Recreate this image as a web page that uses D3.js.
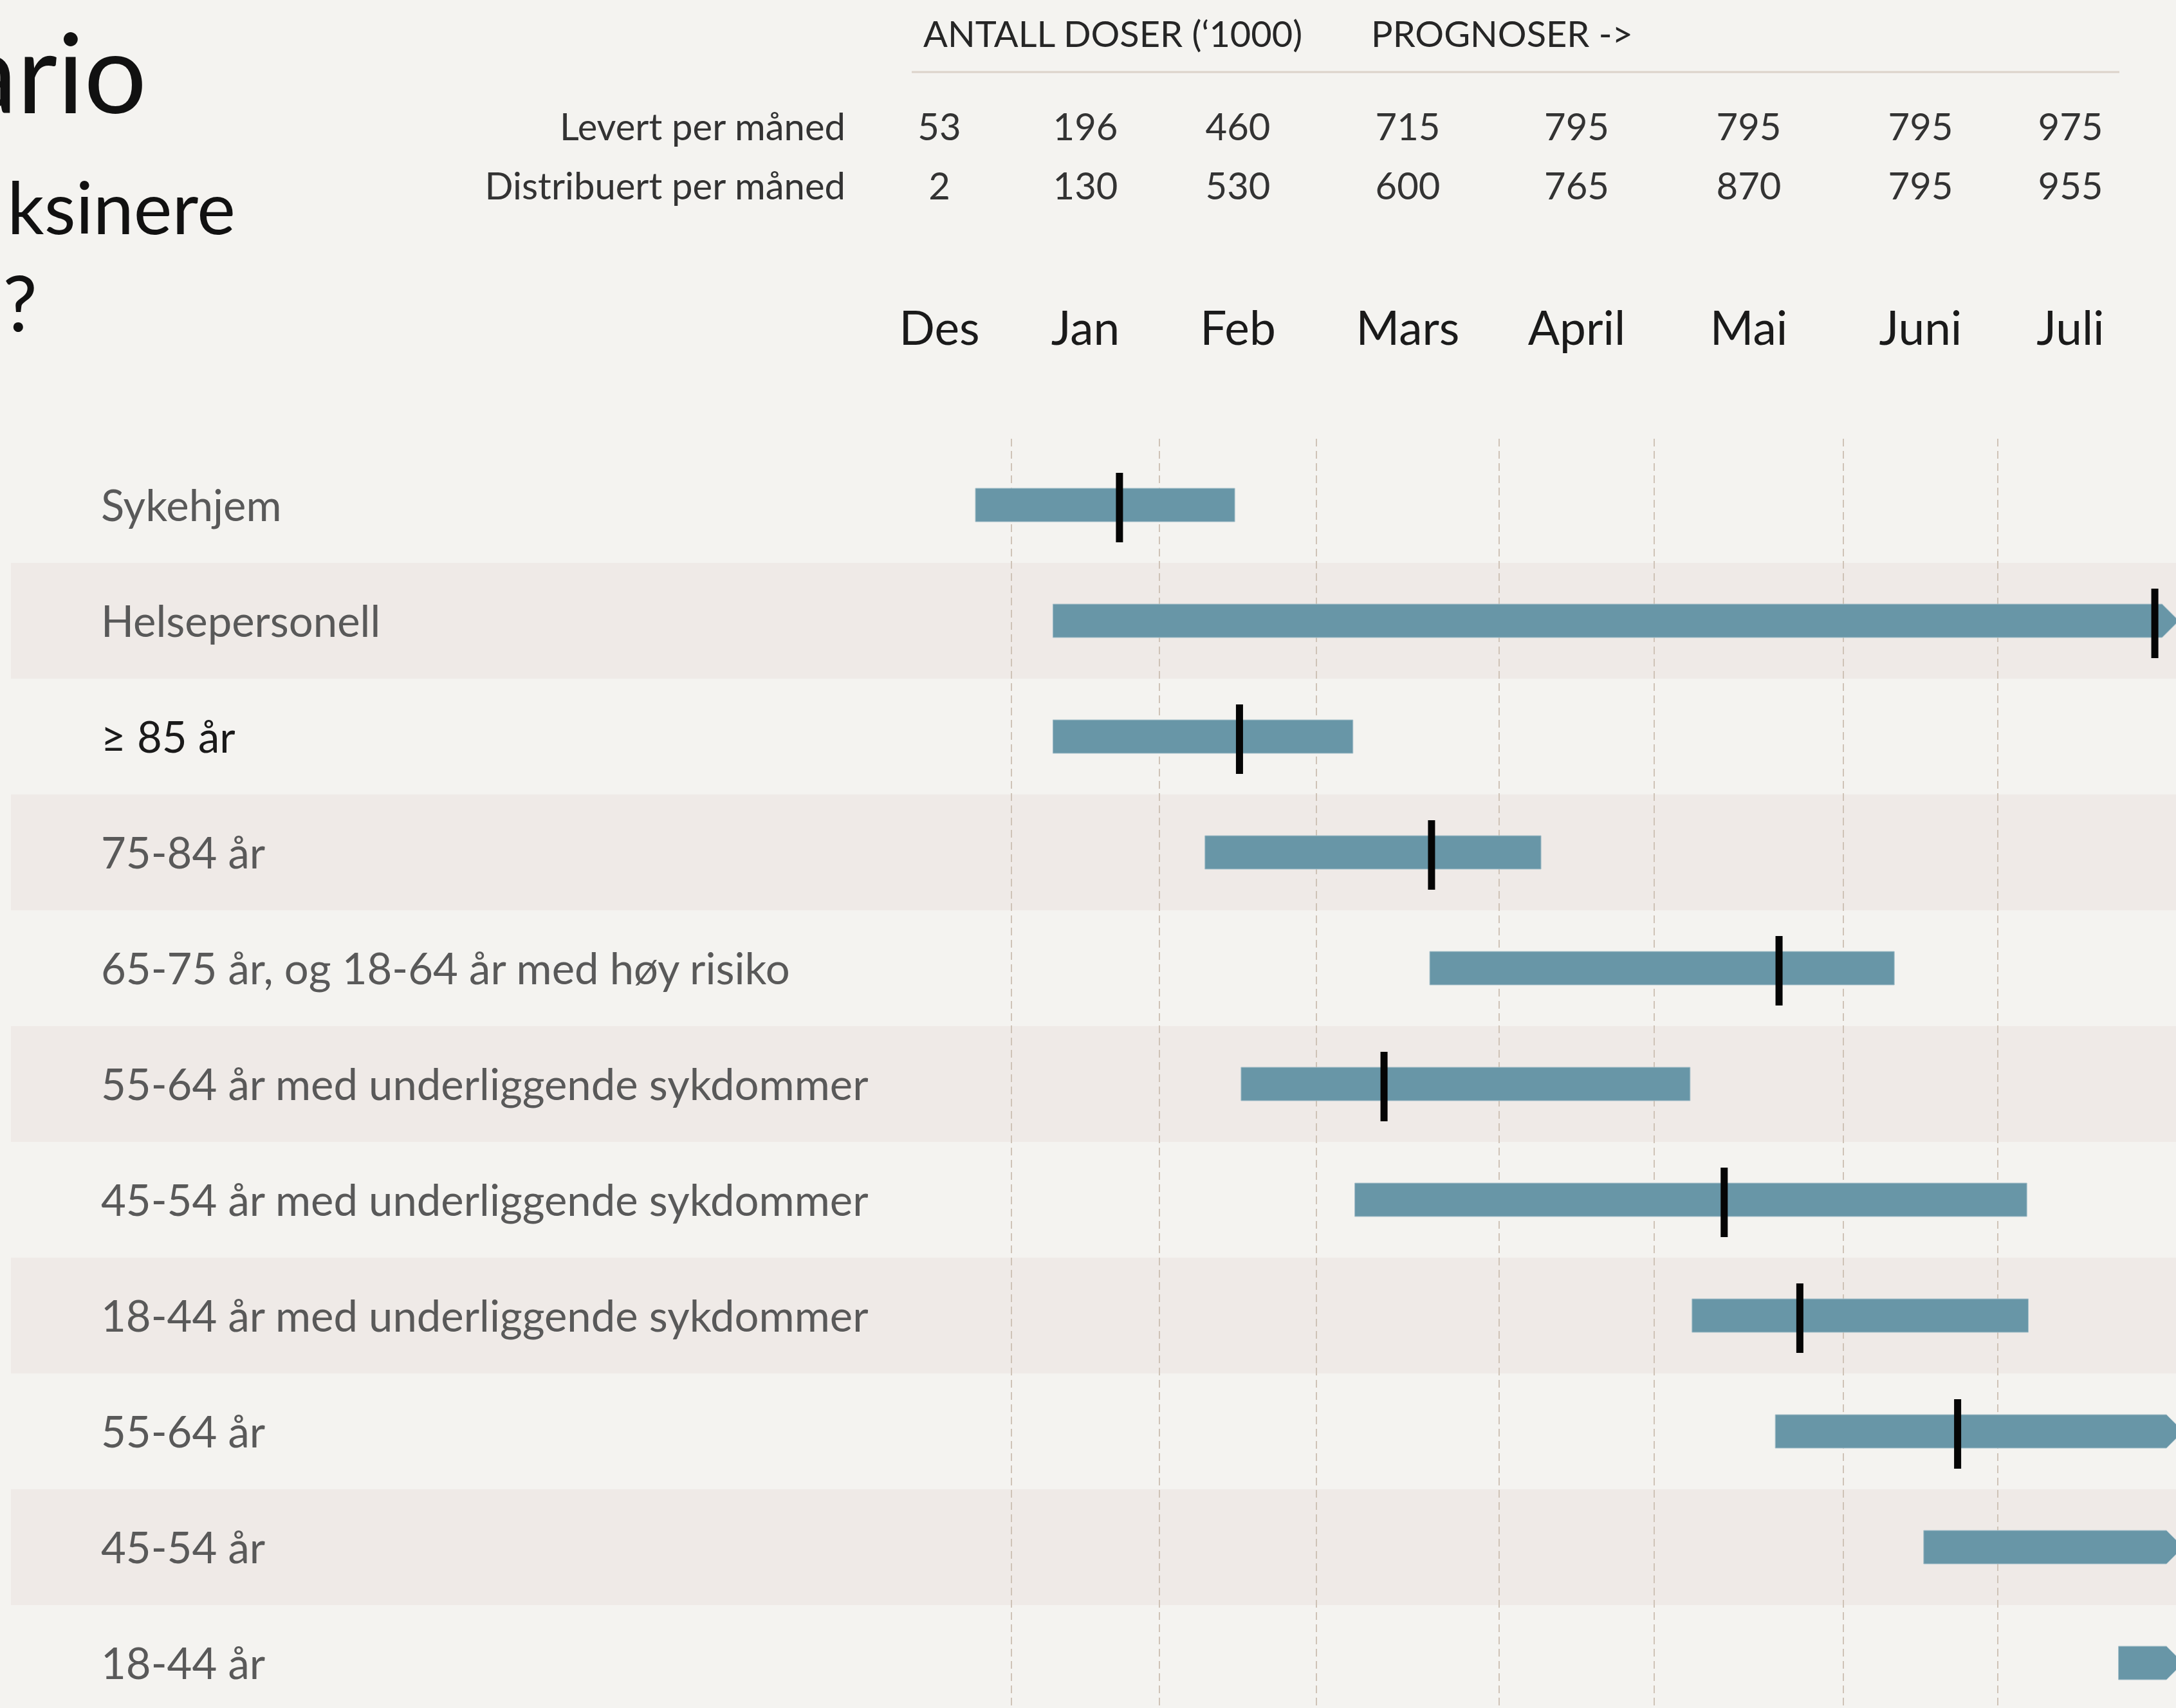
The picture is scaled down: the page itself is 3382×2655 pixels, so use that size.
<!DOCTYPE html>
<html>
<head>
<meta charset="utf-8">
<script src="https://cdn.jsdelivr.net/npm/d3@7"></script>
<style>
  html, body { margin: 0; padding: 0; background: #f4f3f0; }
  svg { display: block; }
  text { font-family: Lato, "Open Sans", "DejaVu Sans", sans-serif; }
</style>
</head>
<body>
<svg class="canvas"></svg>
<script>
/*
	Vaksinasjonsscenario - hvem vaksineres naar (gantt-aktig oversikt)
*/

var W = 3382;
var H = 2655;

// maaneder og doser ('1000)
var months = ["Des", "Jan", "Feb", "Mars", "April", "Mai", "Juni", "Juli"];
var levert = [53, 196, 460, 715, 795, 795, 795, 975];
var distribuert = [2, 130, 530, 600, 765, 870, 795, 955];

// grupper, i maaneds-enheter (0 = start Des, 1 = start Jan, ...)
var groups = ["Sykehjem", "Helsepersonell", "\u2265 85 år", "75-84 år",
	"65-75 år, og 18-64 år med høy risiko", "55-64 år med underliggende sykdommer",
	"45-54 år med underliggende sykdommer", "18-44 år med underliggende sykdommer",
	"55-64 år", "45-54 år", "18-44 år"];
var startM = [0.75, 1.28, 1.28, 2.29, 3.62, 2.52, 3.21, 5.20, 5.64, 6.52, 7.83];
var endM = [2.48, 8.13, 3.20, 4.27, 6.33, 5.19, 7.20, 7.21, 8.16, 8.16, 8.16];
var markM = [1.73, 8.08, 2.51, 3.63, 5.66, 3.37, 5.37, 5.77, 6.74, null, null];
var continues = [false, true, false, false, false, false, false, false, true, true, true];

var rows = groups.map(function(g, i) {
	return {name: g, i: i, s: startM[i], e: endM[i], m: markM[i], cont: continues[i]};
});

// colours
var bg = "#f4f3f0", stripe = "#efeae7", barCol = "#6896a7", gridCol = "#cfc3b7";

var svg = d3.select(".canvas").attr("width", W).attr("height", H);
svg.append("rect").attr("width", W).attr("height", H).attr("fill", bg);

//Scale - x (month boundaries are not evenly spaced in the slide)
var monthEdges = [1348, 1572, 1802, 2046, 2330, 2571, 2865, 3105, 3331];
var x = d3.scaleLinear().domain(d3.range(months.length + 1)).range(monthEdges);
//Scale - rows
var y = d3.scaleBand().domain(groups).range([695, 695 + 180 * groups.length]).paddingInner(0);
var bh = 52;

// striped rows
svg.selectAll("rect.stripe")
	.data(rows.filter(function(d) { return d.i % 2 == 1; }))
	.enter().append("rect")
	.attr("class", "stripe")
	.attr("x", 17)
	.attr("y", function(d) { return y(d.name); })
	.attr("width", W - 17)
	.attr("height", y.bandwidth())
	.attr("fill", stripe);

// dashed month separators
svg.selectAll("line.grid")
	.data(d3.range(1, months.length))
	.enter().append("line")
	.attr("class", "grid")
	.attr("x1", function(d) { return x(d); })
	.attr("x2", function(d) { return x(d); })
	.attr("y1", 682)
	.attr("y2", H)
	.attr("stroke", gridCol)
	.attr("stroke-width", 2)
	.attr("stroke-dasharray", "12,7");

// bars (arrow tip when the group continues past Juli)
function barPath(d) {
	var x0 = x(d.s), x1 = x(d.e);
	var yc = y(d.name) + y.bandwidth() / 2;
	var t = yc - bh / 2, b = yc + bh / 2;
	var tip = d.cont ? 26 : 0;
	return "M" + x0 + "," + t + "H" + x1 + "L" + (x1 + tip) + "," + yc +
		"L" + x1 + "," + b + "H" + x0 + "Z";
}
svg.selectAll("path.bar")
	.data(rows)
	.enter().append("path")
	.attr("class", "bar")
	.attr("d", barPath)
	.attr("fill", barCol)
	.attr("stroke", "#a7c1cb")
	.attr("stroke-width", 1);

// black markers
svg.selectAll("rect.mark")
	.data(rows.filter(function(d) { return d.m != null; }))
	.enter().append("rect")
	.attr("class", "mark")
	.attr("x", function(d) { return x(d.m) - 5.5; })
	.attr("y", function(d) { return y(d.name) + y.bandwidth() / 2 - 50; })
	.attr("width", 11)
	.attr("height", 108)
	.attr("fill", "#050505");

// group labels
svg.selectAll("text.grp")
	.data(rows)
	.enter().append("text")
	.attr("class", "grp")
	.attr("x", 157)
	.attr("y", function(d) { return y(d.name) + y.bandwidth() / 2 + 25; })
	.attr("font-size", 67)
	.attr("fill", function(d) { return d.i == 2 ? "#1a1a1a" : "#595959"; })
	.text(function(d) { return d.name; });

/*

	Header: title fragments, dose table, months

*/
var title = [{t: "ario", x: 228, y: 176, fs: 172},
	{t: "ksinere", x: 366, y: 364, fs: 113},
	{t: "?", x: 58, y: 515, fs: 120}];
svg.selectAll("text.title")
	.data(title)
	.enter().append("text")
	.attr("class", "title")
	.attr("x", function(d) { return d.x; })
	.attr("y", function(d) { return d.y; })
	.attr("font-size", function(d) { return d.fs; })
	.attr("text-anchor", "end")
	.attr("fill", "#111")
	.text(function(d) { return d.t; });

svg.append("text").attr("x", 1435).attr("y", 73).attr("font-size", 56)
	.attr("fill", "#262626").text("ANTALL DOSER (\u20181000)");
svg.append("text").attr("x", 2131).attr("y", 73).attr("font-size", 56)
	.attr("fill", "#262626").text("PROGNOSER ->");
svg.append("line").attr("x1", 1417).attr("x2", 3294).attr("y1", 112).attr("y2", 112)
	.attr("stroke", "#dcd3ca").attr("stroke-width", 3);

var tableRows = [{lab: "Levert per måned", vals: levert, y: 218},
	{lab: "Distribuert per måned", vals: distribuert, y: 310}];
tableRows.forEach(function(r) {
	svg.append("text").attr("x", 1314).attr("y", r.y).attr("font-size", 58)
		.attr("text-anchor", "end").attr("fill", "#333").text(r.lab);
	svg.selectAll(null)
		.data(r.vals)
		.enter().append("text")
		.attr("x", function(d, i) { return x(i + 0.5); })
		.attr("y", r.y)
		.attr("font-size", 58)
		.attr("text-anchor", "middle")
		.attr("fill", "#333")
		.text(function(d) { return d; });
});

svg.selectAll("text.month")
	.data(months)
	.enter().append("text")
	.attr("class", "month")
	.attr("x", function(d, i) { return x(i + 0.5); })
	.attr("y", 536)
	.attr("font-size", 73)
	.attr("text-anchor", "middle")
	.attr("fill", "#1a1a1a")
	.text(function(d) { return d; });
</script>
</body>
</html>
